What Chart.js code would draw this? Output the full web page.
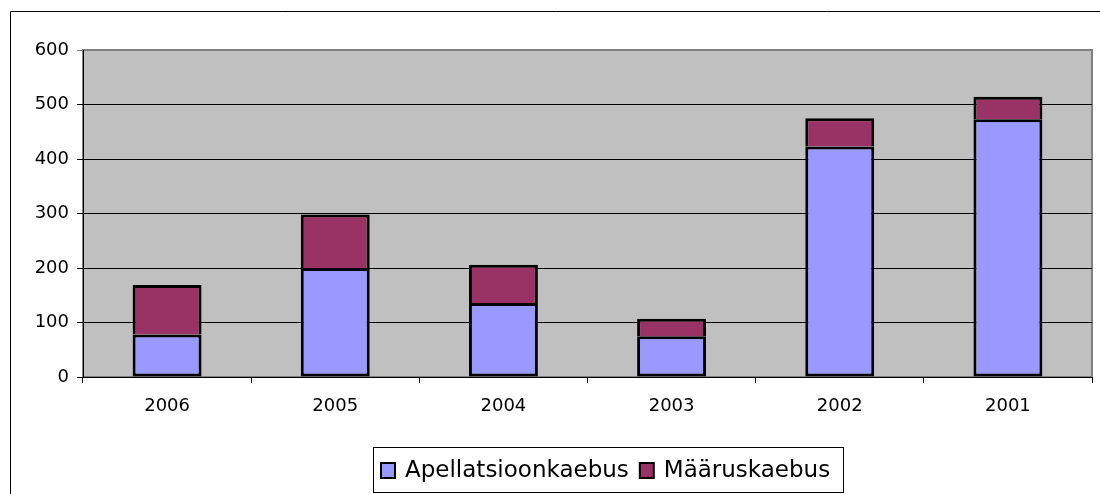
<!DOCTYPE html>
<html>
<head>
<meta charset="utf-8">
<script src="https://cdn.jsdelivr.net/npm/chart.js@4.4.1/dist/chart.umd.min.js"></script>
<style>
    html, body { margin: 0; padding: 0; background: #fff; }
    #wrap { width: 1100px; height: 494px; }
</style>
</head>
<body>
<div id="wrap"><canvas id="chart" width="1100" height="494"></canvas></div>
<script>
// Data
const years = ['2006', '2005', '2004', '2003', '2002', '2001'];
const apellatsioon = [78, 200, 136, 75, 423, 473];
const maarus = [91, 98, 70, 32, 52, 41];
const yTicks = [0, 100, 200, 300, 400, 500, 600];

const FONT = '"DejaVu Sans", Verdana, sans-serif';

// Frame, plot background and the boxed legend
const framePlugin = {
    id: 'frame',
    beforeDraw(chart) {
        const ctx = chart.ctx;
        const a = chart.chartArea;
        ctx.save();
        ctx.fillStyle = '#fff';
        ctx.fillRect(0, 0, chart.width, chart.height);

        // outer chart border (runs off the right and bottom edge)
        ctx.strokeStyle = '#000';
        ctx.lineWidth = 1;
        ctx.beginPath();
        ctx.moveTo(10.5, chart.height);
        ctx.lineTo(10.5, 11.5);
        ctx.lineTo(chart.width, 11.5);
        ctx.stroke();

        // plot area
        ctx.fillStyle = '#c0c0c0';
        ctx.fillRect(a.left, a.top, a.right - a.left, a.bottom - a.top);
        ctx.strokeStyle = '#808080';
        ctx.lineWidth = 2;
        ctx.strokeRect(a.left, a.top, a.right - a.left, a.bottom - a.top);
        ctx.restore();
    },
    afterDraw(chart) {
        const ctx = chart.ctx;
        ctx.save();
        ctx.strokeStyle = '#000';
        ctx.lineWidth = 1;
        ctx.strokeRect(373.5, 447.5, 470, 45);

        ctx.font = '23px ' + FONT;
        ctx.textBaseline = 'middle';
        const cy = 470;
        let x = 381;
        chart.data.datasets.forEach(ds => {
            ctx.fillStyle = ds.backgroundColor;
            ctx.fillRect(x, cy - 7, 14, 15);
            ctx.lineWidth = 2;
            ctx.strokeRect(x, cy - 7, 14, 15);
            ctx.fillStyle = '#000';
            ctx.fillText(ds.label, x + 24, cy + 1);
            x += 24 + ctx.measureText(ds.label).width + 11;
        });
        ctx.restore();
    }
};

const ctx = document.getElementById('chart').getContext('2d');

new Chart(ctx, {
    type: 'bar',
    data: {
        labels: years,
        datasets: [
            {
                label: 'Apellatsioonkaebus',
                data: apellatsioon,
                backgroundColor: '#9999ff',
                borderColor: '#000',
                borderWidth: 3,
                borderSkipped: false,
                barPercentage: 0.41,
                categoryPercentage: 1.0
            },
            {
                label: 'Määruskaebus',
                data: maarus,
                backgroundColor: '#993366',
                borderColor: '#000',
                borderWidth: 3,
                borderSkipped: 'start',
                barPercentage: 0.41,
                categoryPercentage: 1.0
            }
        ]
    },
    options: {
        responsive: false,
        animation: false,
        events: [],
        layout: {
            padding: { left: 10, right: 8, top: 50, bottom: 67 }
        },
        plugins: {
            legend: { display: false },
            tooltip: { enabled: false }
        },
        scales: {
            x: {
                stacked: true,
                afterFit(scale) { scale.height = 50; },
                grid: {
                    offset: true,
                    drawOnChartArea: false,
                    tickLength: 6,
                    color: '#000'
                },
                border: { color: '#000', width: 1 },
                ticks: {
                    color: '#000',
                    padding: 13,
                    font: { family: FONT, size: 18 }
                }
            },
            y: {
                stacked: true,
                min: yTicks[0],
                max: yTicks[yTicks.length - 1],
                afterFit(scale) { scale.width = 73; },
                afterBuildTicks(scale) {
                    scale.ticks = yTicks.map(v => ({ value: v }));
                },
                grid: {
                    tickLength: 6,
                    color: (c) => c.tick && c.tick.value === 600 ? '#808080' : '#000'
                },
                border: { color: '#000', width: 1 },
                ticks: {
                    color: '#000',
                    padding: 8,
                    font: { family: FONT, size: 18 }
                }
            }
        }
    },
    plugins: [framePlugin]
});
</script>
</body>
</html>
